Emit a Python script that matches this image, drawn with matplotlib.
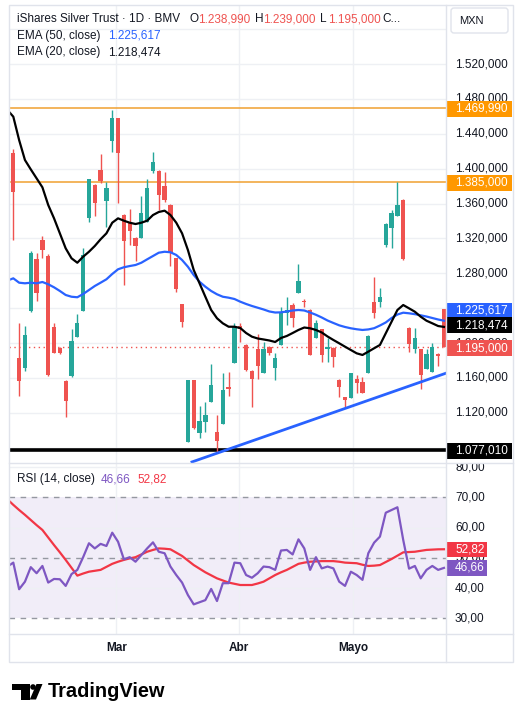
#!/usr/bin/env python3
# -*- coding: utf-8 -*-
"""
iShares Silver Trust (BMV, 1D) candles with EMA 20/50 and RSI pane, TradingView style.

Usage:
  python plot.py   -> writes out.png
"""

import numpy as np
import matplotlib
matplotlib.use("Agg")
import matplotlib.pyplot as plt
import matplotlib.transforms as mtransforms
from matplotlib.patches import Rectangle, FancyBboxPatch, Circle, Polygon

# ---- data (MXN) ----
opens = [1418.3, 1182.5, 1171.7, 1237.1, 1296.0, 1318.2, 1299.8, 1218.0, 1194.0, 1156.8,
         1162.2, 1207.3, 1237.1, 1343.7, 1381.2, 1398.4, 1362.9, 1432.0, 1457.7, 1346.8,
         1338.0, 1320.8, 1320.8, 1339.1, 1397.3, 1397.3, 1380.1, 1358.3, 1297.2, 1244.4,
         1086.9, 1157.6, 1097.2, 1109.8, 1132.7, 1098.3, 1107.2, 1150.0, 1177.5, 1219.5,
         1197.8, 1168.3, 1192.8, 1166.0, 1195.1, 1171.0, 1197.8, 1234.1, 1243.6, 1257.7,
         1248.2, 1237.9, 1205.4, 1215.8, 1192.6, 1194.0, 1157.6, 1137.8, 1136.6, 1158.4,
         1155.7, 1165.3, 1247.4, 1247.4, 1312.4, 1331.6, 1346.0, 1364.0, 1217.6, 1192.8,
         1192.8, 1169.9, 1167.1, 1187.4, 1238.99]
highs = [1422.2, 1222.6, 1219.5, 1305.5, 1302.9, 1322.8, 1302.0, 1222.6, 1195.0, 1157.6,
         1215.7, 1233.3, 1308.6, 1388.0, 1382.4, 1416.8, 1385.0, 1467.2, 1458.0, 1348.0,
         1353.7, 1321.6, 1368.6, 1387.8, 1419.1, 1398.4, 1396.5, 1359.5, 1297.5, 1244.8,
         1157.6, 1158.0, 1127.8, 1132.7, 1176.0, 1117.5, 1166.0, 1167.1, 1222.6, 1222.6,
         1199.0, 1169.0, 1210.4, 1201.5, 1196.6, 1188.2, 1241.7, 1253.1, 1245.5, 1290.6,
         1250.2, 1239.0, 1226.4, 1216.1, 1205.4, 1195.0, 1158.8, 1138.1, 1166.0, 1163.3,
         1160.7, 1209.2, 1276.1, 1262.8, 1337.7, 1352.6, 1385.0, 1365.0, 1218.4, 1217.6,
         1193.2, 1193.5, 1200.4, 1188.0, 1239.0]
lows = [1318.2, 1139.3, 1167.9, 1236.0, 1248.6, 1297.5, 1162.2, 1188.2, 1187.4, 1115.5,
        1161.6, 1207.0, 1236.7, 1338.5, 1346.0, 1383.2, 1333.4, 1419.4, 1360.3, 1266.6,
        1312.4, 1294.4, 1320.5, 1338.8, 1395.3, 1352.6, 1362.1, 1288.7, 1258.2, 1218.7,
        1086.5, 1101.4, 1090.8, 1098.3, 1132.4, 1075.4, 1106.6, 1139.3, 1177.1, 1201.5,
        1168.0, 1127.0, 1158.4, 1166.0, 1186.3, 1157.6, 1197.2, 1220.7, 1218.7, 1257.7,
        1241.7, 1186.3, 1205.4, 1178.6, 1178.6, 1172.9, 1138.5, 1126.3, 1136.6, 1143.0,
        1142.4, 1165.3, 1228.4, 1241.7, 1310.1, 1308.6, 1346.0, 1295.2, 1190.1, 1188.2,
        1146.9, 1169.9, 1167.1, 1173.7, 1195.0]
closes = [1373.6, 1156.8, 1209.2, 1302.9, 1257.7, 1306.7, 1163.3, 1188.9, 1188.2, 1133.9,
          1202.7, 1223.3, 1301.0, 1387.8, 1360.3, 1386.2, 1378.1, 1457.7, 1418.3, 1317.4,
          1328.8, 1311.6, 1348.8, 1377.5, 1407.6, 1369.8, 1364.0, 1303.6, 1262.0, 1223.8,
          1157.6, 1102.2, 1110.6, 1117.5, 1151.9, 1088.0, 1146.1, 1147.0, 1218.7, 1215.8,
          1169.1, 1158.4, 1173.7, 1192.8, 1188.2, 1182.5, 1235.9, 1237.9, 1228.4, 1271.5,
          1246.5, 1186.3, 1222.6, 1186.3, 1194.9, 1183.6, 1149.9, 1134.7, 1166.0, 1154.5,
          1142.4, 1208.1, 1234.1, 1253.1, 1336.5, 1348.8, 1358.3, 1296.0, 1198.6, 1205.4,
          1163.3, 1187.1, 1195.8, 1185.1, 1195.0]

# indicator series start one bar before the first visible candle
ema20 = [1467.2, 1459.6, 1432.8, 1409.9, 1399.2, 1388.9, 1378.6, 1358.3, 1343.0, 1325.8, 1308.6,
         1297.2, 1292.1, 1299.0, 1304.7, 1311.3, 1319.0, 1325.8, 1338.0, 1343.0, 1340.3,
         1338.0, 1336.5, 1338.0, 1340.3, 1346.8, 1350.3, 1351.8, 1346.8, 1338.0, 1325.8,
         1306.7, 1283.8, 1268.5, 1253.1, 1237.9, 1228.4, 1222.6, 1218.7, 1218.7, 1217.2,
         1211.5, 1207.3, 1205.2, 1204.1, 1202.9, 1201.2, 1205.8, 1208.1, 1211.5, 1215.0,
         1217.8, 1216.9, 1215.0, 1212.1, 1207.5, 1203.5, 1199.7, 1195.8, 1192.0, 1188.2,
         1186.3, 1190.1, 1194.0, 1197.8, 1211.2, 1224.5, 1237.9, 1243.6, 1239.8, 1235.9,
         1230.2, 1225.6, 1222.6, 1219.5, 1218.474]
ema50 = [1271.7, 1274.2, 1269.2, 1268.5, 1269.2, 1268.5, 1270.0, 1267.4, 1263.9, 1259.7, 1255.1,
         1253.1, 1252.5, 1256.2, 1260.8, 1265.4, 1269.2, 1273.1, 1279.2, 1284.6, 1286.9,
         1288.3, 1289.5, 1292.1, 1296.0, 1299.8, 1303.6, 1304.7, 1304.1, 1301.0, 1295.2,
         1287.5, 1278.0, 1270.3, 1264.6, 1259.7, 1255.9, 1253.1, 1252.0, 1250.5, 1247.4,
         1244.8, 1242.5, 1240.5, 1238.5, 1236.2, 1235.0, 1235.2, 1236.2, 1237.3, 1237.9,
         1237.3, 1235.0, 1232.4, 1229.3, 1225.8, 1223.0, 1220.3, 1218.4, 1216.9, 1215.8,
         1215.0, 1215.6, 1217.0, 1220.1, 1223.6, 1228.7, 1232.7, 1234.8, 1234.1, 1233.1,
         1231.8, 1230.4, 1228.7, 1227.0, 1225.617]
rsi = [47.1, 48.4, 39.6, 42.1, 46.9, 44.9, 47.3, 41.8, 43.0, 42.9, 40.7,
       44.6, 46.0, 50.2, 54.8, 53.1, 54.6, 53.9, 58.3, 55.3, 49.5,
       50.2, 48.7, 50.9, 53.1, 55.1, 52.0, 51.5, 47.1, 44.3, 41.8,
       37.7, 34.6, 35.3, 36.0, 39.7, 35.7, 41.6, 41.6, 48.4, 48.2,
       44.3, 43.4, 44.9, 47.1, 46.9, 46.0, 52.4, 52.6, 51.1, 56.1,
       53.1, 46.0, 50.2, 46.5, 47.1, 46.5, 42.1, 40.7, 45.4, 44.3,
       42.7, 51.5, 55.0, 57.0, 64.9, 65.8, 66.7, 55.9, 46.4, 47.3,
       43.2, 46.0, 47.3, 46.0, 46.66]
rsi_ma = [69.3, 67.5, 65.8, 64.2, 62.5, 60.8, 59.2, 56.7, 54.2, 51.8, 49.3,
          46.7, 44.1, 44.8, 45.4, 45.7, 46.0, 47.0, 48.0, 48.7, 49.3,
          49.8, 50.2, 51.1, 52.0, 52.6, 53.1, 53.0, 52.8, 51.7, 50.6,
          49.1, 47.6, 46.4, 45.2, 44.2, 43.2, 42.5, 41.8, 41.4, 41.0,
          41.0, 41.0, 41.5, 42.1, 43.2, 44.3, 45.2, 46.0, 47.0, 48.0,
          48.4, 48.7, 48.8, 48.9, 48.9, 48.9, 48.7, 48.4, 48.3, 48.2,
          47.7, 47.3, 47.4, 47.6, 48.6, 49.6, 50.7, 51.8, 51.9, 52.0,
          52.3, 52.6, 52.7, 52.8, 52.82]

# drawings: horizontal levels and the rising support line (bar index, price)
levels = [1469.99, 1385.0]
support_level = 1077.01
trend_x = [30.7, 74.6]
trend_y = [1063.6, 1166.0]

month_labels = ["Mar", "Abr", "Mayo"]
month_pos = [17.7, 38.7, 58.4]
price_ticks = [1080, 1120, 1160, 1200, 1240, 1280, 1320, 1360, 1400, 1440, 1480, 1520, 1560]
price_labels = [1120, 1160, 1200, 1280, 1320, 1360, 1400, 1440, 1480, 1520]
rsi_ticks = [30, 40, 50, 60, 70, 80]

# ---- layout in pixels ----
W, H = 528, 707
PL, PR, SR = 9, 446, 512
MAIN_T, MAIN_B, RSI_B, TIME_B = 5, 463, 634, 662
TEXT = "#131722"
GRID = "#eef0f4"
BORDER = "#e0e3eb"
UP, DOWN = "#26a69a", "#ef5350"
BLUE, ORANGE, PURPLE, RED = "#2962ff", "#ff9800", "#7e57c2", "#f23645"


def px_axes(fig, x0, y0, x1, y1):
    ax = fig.add_axes([x0 / W, 1 - y1 / H, (x1 - x0) / W, (y1 - y0) / H])
    ax.set_axis_off()
    return ax


def fmt_price(v):
    return f"{v:,.3f}".replace(",", "_").replace(".", ",").replace("_", ".")


def fmt_rsi(v):
    return f"{v:.2f}".replace(".", ",")


def scale_box(ax, y, text, color, height_px, width_px, span_px, shift_px=0.0):
    """Coloured price tag on a price scale axes (shift_px > 0 moves it up)."""
    trans = mtransforms.blended_transform_factory(ax.transAxes, ax.transData)
    lo, hi = ax.get_ylim()
    per_px = (hi - lo) / span_px
    yc = y + shift_px * per_px
    h = height_px * per_px
    ax.add_patch(Rectangle((1 / 66, yc - h / 2), width_px / 66, h, transform=trans,
                           fc=color, ec="none", zorder=5, clip_on=False))
    ax.text(9 / 66, yc, text, transform=trans, color="white", fontsize=8.5,
            va="center", ha="left", zorder=6)


def main() -> None:
    plt.rcParams["font.family"] = ["Liberation Sans", "DejaVu Sans"]
    fig = plt.figure(figsize=(W / 100, H / 100), dpi=100, facecolor="white")

    x = np.arange(len(closes))
    xi = np.arange(-1, len(closes))
    o, h, l, c = (np.array(a) for a in (opens, highs, lows, closes))
    xlim = (-0.74, 74.35)

    # ---- main price pane ----
    ax = px_axes(fig, PL, MAIN_T, PR, MAIN_B)
    ylim = (1062.4, 1587.7)
    ax.set_xlim(*xlim)
    ax.set_ylim(*ylim)
    for p in price_ticks:
        ax.axhline(p, color=GRID, lw=1, zorder=0)
    for m in month_pos:
        ax.axvline(m, color=GRID, lw=1, zorder=0)

    colors = np.where(c >= o, UP, DOWN)
    ax.vlines(x, l, h, colors=colors, lw=1, zorder=3)
    body = np.maximum(np.abs(c - o), 0.9)
    ax.bar(x, body, bottom=np.minimum(o, c), width=0.74, color=colors, lw=0, zorder=4)

    ax.plot(xi, ema50, color=BLUE, lw=1.6, zorder=5)
    ax.plot(xi, ema20, color="black", lw=1.6, zorder=5)
    for lv in levels:
        ax.axhline(lv, color="#f0a030", lw=1.1, zorder=2)
    ax.axhline(support_level, color="black", lw=2.6, zorder=2)
    ax.axhline(closes[-1], color=DOWN, lw=1, ls=(0, (1, 2.5)), zorder=2)
    ax.plot(trend_x, trend_y, color=BLUE, lw=2, zorder=5)

    # price scale
    ps = px_axes(fig, PR, MAIN_T, SR, MAIN_B)
    ps.set_ylim(*ylim)
    ptrans = mtransforms.blended_transform_factory(ps.transAxes, ps.transData)
    for p in price_labels:
        ps.text(9 / 66, p, fmt_price(p), color=TEXT, fontsize=8.5, va="center", ha="left",
                transform=ptrans, clip_on=True)
    span = MAIN_B - MAIN_T
    scale_box(ps, levels[0], fmt_price(levels[0]), ORANGE, 16, 65, span, -1)
    scale_box(ps, levels[1], fmt_price(levels[1]), ORANGE, 16, 65, span, -1)
    scale_box(ps, ema50[-1], fmt_price(ema50[-1]), BLUE, 16, 65, span, 10)
    scale_box(ps, ema20[-1], fmt_price(ema20[-1]), "black", 16, 65, span, 1.5)
    scale_box(ps, closes[-1], fmt_price(closes[-1]), DOWN, 16, 65, span, -1)
    scale_box(ps, support_level, fmt_price(support_level), "black", 16, 65, span, -0.5)

    # ---- RSI pane ----
    ar = px_axes(fig, PL, MAIN_B, PR, RSI_B)
    rlim = (24.8, 81.34)
    ar.set_xlim(*xlim)
    ar.set_ylim(*rlim)
    ar.axhspan(30, 70, color=PURPLE, alpha=0.1, lw=0, zorder=0)
    for g in (40, 60, 80):
        ar.axhline(g, color=GRID, lw=1, zorder=0)
    for m in month_pos:
        ar.axvline(m, color=GRID, lw=1, zorder=0)
    for g in (30, 50, 70):
        ar.axhline(g, color="#9598a1", lw=1, ls=(0, (4, 4)), zorder=1)
    ar.plot(xi, rsi_ma, color=RED, lw=1.6, zorder=3)
    ar.plot(xi, rsi, color=PURPLE, lw=1.6, zorder=4)

    rs = px_axes(fig, PR, MAIN_B, SR, RSI_B)
    rs.set_ylim(*rlim)
    rtrans = mtransforms.blended_transform_factory(rs.transAxes, rs.transData)
    for t in rsi_ticks:
        rs.text(9 / 66, t, fmt_rsi(t), color=TEXT, fontsize=8.5, va="center", ha="left",
                transform=rtrans, clip_on=True)
    scale_box(rs, rsi_ma[-1], fmt_rsi(rsi_ma[-1]), RED, 15, 40, RSI_B - MAIN_B)
    scale_box(rs, rsi[-1], fmt_rsi(rsi[-1]), PURPLE, 16, 40, RSI_B - MAIN_B)

    # ---- time axis ----
    at = px_axes(fig, PL, RSI_B, PR, TIME_B)
    at.set_xlim(*xlim)
    at.set_ylim(0, 1)
    for m, lab in zip(month_pos, month_labels):
        at.text(m, 0.5, lab, ha="center", va="center", fontsize=8.5,
                fontweight="bold", color=TEXT)

    # ---- overlay: frame, legends, logo (pixel coordinates) ----
    ov = fig.add_axes([0, 0, 1, 1], zorder=10)
    ov.set_xlim(0, W)
    ov.set_ylim(H, 0)
    ov.set_axis_off()
    ov.add_patch(Rectangle((8.5, 4.5), 504, 657, fill=False, ec=BORDER, lw=1))
    ov.plot([PR, PR], [4.5, 661.5], color=BORDER, lw=1)
    ov.plot([8.5, 512.5], [MAIN_B, MAIN_B], color=BORDER, lw=1)
    ov.plot([8.5, 512.5], [RSI_B, RSI_B], color=BORDER, lw=1)

    ov.add_patch(FancyBboxPatch((451, 8), 57, 25, boxstyle="round,pad=0,rounding_size=3",
                                fc="white", ec=BORDER, lw=1))
    ov.text(459, 21, "MXN", fontsize=8, color=TEXT, va="center", ha="left")

    kw = dict(fontsize=8.5, va="center", ha="left")
    ov.text(16.7, 19, "iShares Silver Trust · 1D · BMV", color=TEXT, **kw)
    for key, kx, val in (("O", 189.3, opens[-1]), ("H", 255, highs[-1]), ("L", 320, lows[-1])):
        ov.text(kx, 19, key, color=TEXT, **kw)
        ov.text(kx + 8.5, 19, fmt_price(val), color=DOWN, **kw)
    ov.text(382.7, 19, "C...", color=TEXT, **kw)
    ov.text(16.7, 35.5, "EMA (50, close)", color=TEXT, **kw)
    ov.text(108.3, 35.5, fmt_price(ema50[-1]), color=BLUE, **kw)
    ov.text(16.7, 52.5, "EMA (20, close)", color=TEXT, **kw)
    ov.text(108.3, 52.5, fmt_price(ema20[-1]), color=TEXT, **kw)
    ov.text(17, 479, "RSI (14, close)", color=TEXT, **kw)
    ov.text(100.5, 479, fmt_rsi(rsi[-1]), color=PURPLE, **kw)
    ov.text(137, 479, fmt_rsi(rsi_ma[-1]), color=RED, **kw)

    # TradingView logo
    ov.add_patch(Polygon([(11.7, 684), (29.5, 684), (29.5, 699.5), (20.5, 699.5),
                          (20.5, 690), (11.7, 690)], closed=True, fc="black", ec="none"))
    ov.add_patch(Circle((33, 687), 2.8, fc="black", ec="none"))
    ov.add_patch(Polygon([(36.5, 684), (42.5, 684), (36, 699.5), (29.8, 699.5)],
                         closed=True, fc="black", ec="none"))
    ov.text(47.5, 691.5, "TradingView", fontsize=14.4, fontweight="bold",
            color="black", va="center", ha="left")

    fig.savefig("out.png", dpi=100, facecolor="white")
    print("[OK] Saved plot -> out.png")


if __name__ == "__main__":
    main()
